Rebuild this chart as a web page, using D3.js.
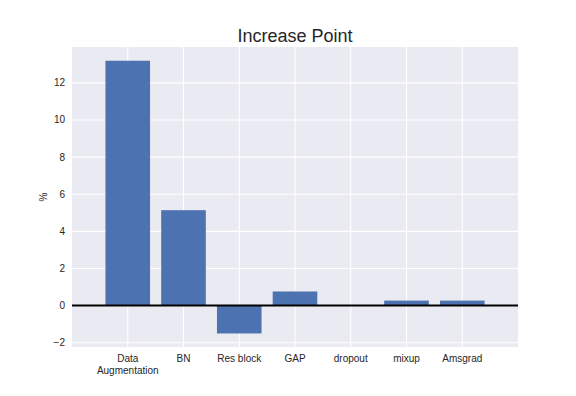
<!DOCTYPE html>
<html><head><meta charset="utf-8">
<script src="https://cdn.jsdelivr.net/npm/d3@7"></script>
<style>body{margin:0;background:#fff}svg{display:block}</style>
</head><body>
<script>
const categories = ["Data\nAugmentation","BN","Res block","GAP","dropout","mixup","Amsgrad"];
const values = [13.19, 5.14, -1.5, 0.76, 0.0, 0.27, 0.27];
const yTicks = [-2, 0, 2, 4, 6, 8, 10, 12];
const title = "Increase Point";
const yLabel = "%";

const W = 576, H = 396;
const m = {l:72, r:58, t:47, b:49};
const iw = W - m.l - m.r, ih = H - m.t - m.b;
const font = "'Liberation Sans', Arial, sans-serif";

const svg = d3.select("body").append("svg").attr("width", W).attr("height", H);
const g = svg.append("g").attr("transform", `translate(${m.l},${m.t})`);

const x = d3.scaleLinear().domain([-1, 7]).range([0, iw]);
const y = d3.scaleLinear().domain([-2.23, 13.93]).range([ih, 0]);

g.append("rect").attr("width", iw).attr("height", ih).attr("fill", "#EAEAF2");

// grid
g.selectAll(".hg").data(yTicks).enter().append("line")
  .attr("x1", 0).attr("x2", iw).attr("y1", d => y(d)).attr("y2", d => y(d))
  .attr("stroke", "#fff").attr("stroke-width", 1.1);
g.selectAll(".vg").data(categories).enter().append("line")
  .attr("y1", 0).attr("y2", ih).attr("x1", (d,i) => x(i)).attr("x2", (d,i) => x(i))
  .attr("stroke", "#fff").attr("stroke-width", 1.1);

// bars
g.selectAll(".bar").data(values).enter().append("rect")
  .attr("x", (d,i) => x(i - 0.4))
  .attr("width", x(0.8) - x(0))
  .attr("y", d => y(Math.max(0, d)))
  .attr("height", d => Math.abs(y(d) - y(0)))
  .attr("fill", "#4C72B0");

// zero line
g.append("line").attr("x1", 0).attr("x2", iw).attr("y1", y(0)).attr("y2", y(0))
  .attr("stroke", "#000").attr("stroke-width", 2);

// y ticks
g.selectAll(".yt").data(yTicks).enter().append("text")
  .attr("x", -7).attr("y", d => y(d)).attr("dy", "0.35em")
  .attr("text-anchor", "end").attr("font-family", font).attr("font-size", 10)
  .attr("fill", "#262626").text(d => d < 0 ? "\u2212" + Math.abs(d) : d);

// x ticks
const xt = g.selectAll(".xt").data(categories).enter().append("text")
  .attr("x", (d,i) => x(i)).attr("y", ih + 15)
  .attr("text-anchor", "middle").attr("font-family", font).attr("font-size", 10)
  .attr("fill", "#262626");
xt.each(function(d){
  const lines = d.split("\n");
  const t = d3.select(this);
  lines.forEach((l, k) => t.append("tspan").attr("x", t.attr("x")).attr("dy", k ? 11.5 : 0).text(l));
});

// title
svg.append("text").attr("x", m.l + iw/2).attr("y", 42).attr("text-anchor", "middle")
  .attr("font-family", font).attr("font-size", 18).attr("fill", "#262626").text(title);

// y label
svg.append("text").attr("transform", `translate(47,${m.t + ih/2}) rotate(-90)`)
  .attr("text-anchor", "middle").attr("font-family", font).attr("font-size", 10)
  .attr("fill", "#262626").text(yLabel);
</script>
</body></html>
